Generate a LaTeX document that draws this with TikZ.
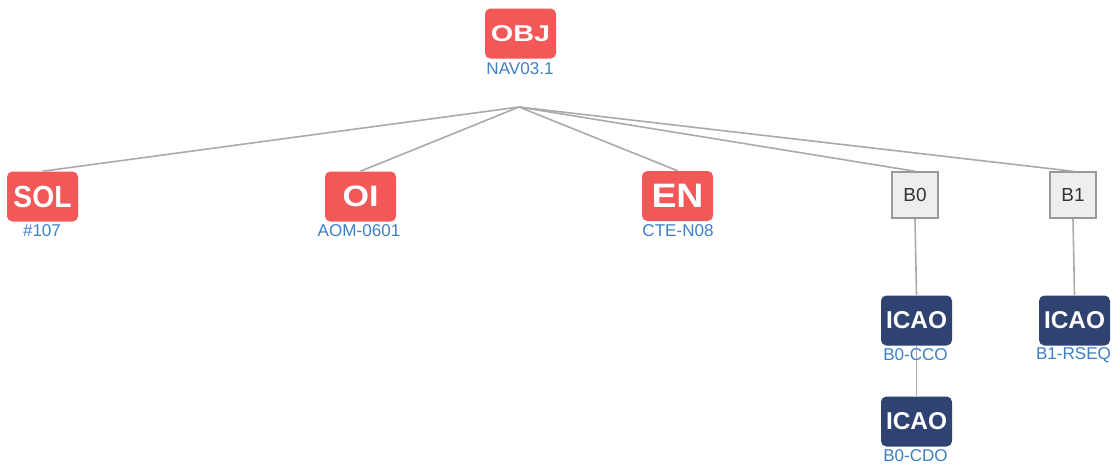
\documentclass[tikz,border=0pt]{standalone}
\usepackage{fontspec}
\setmainfont{Liberation Sans}
\usepackage{graphicx}
\definecolor{redbox}{HTML}{F35858}
\definecolor{navybox}{HTML}{2E4372}
\definecolor{labblue}{HTML}{3D80C4}
\definecolor{edgegray}{HTML}{AAAAAA}
\definecolor{bfill}{HTML}{EEEEEE}
\definecolor{bdraw}{HTML}{999999}
\definecolor{btext}{HTML}{333333}
\newcommand{\fitword}[3]{\resizebox{#1pt}{#2pt}{\bfseries #3}}
\tikzset{
  redtag/.style={fill=redbox, text=white, rounded corners=4pt, minimum width=53.25pt, minimum height=37.5pt, inner sep=0pt},
  navytag/.style={fill=navybox, text=white, rounded corners=4pt, minimum width=53.25pt, minimum height=37.5pt, inner sep=0pt},
  grouptag/.style={fill=bfill, draw=bdraw, line width=1.1pt, text=btext, minimum width=34.5pt, minimum height=34.5pt, inner sep=0pt, font=\fontsize{14.2pt}{16pt}\selectfont},
  codelabel/.style={text=labblue, inner sep=0pt, font=\fontsize{12.8pt}{14pt}\selectfont},
  link/.style={draw=edgegray, line width=1.2pt}
}
\begin{document}
\begin{tikzpicture}[x=0.75pt,y=-0.75pt]
\useasboundingbox (0,0) rectangle (1120,465);
% nodes
\node[redtag] (obj) at (520.5,33.5) {\fitword{44.5}{12}{OBJ}};
\node[redtag] (sol) at (42.5,196.5) {\fitword{43.5}{16}{SOL}};
\node[redtag] (oi) at (360.5,196.5) {\fitword{27}{15.5}{OI}};
\node[redtag] (en) at (677.5,196) {\fitword{39}{17.5}{EN}};
\node[grouptag] (b0) at (915,195) {B0};
\node[grouptag] (b1) at (1073,195) {B1};
\node[navytag] (cco) at (916.5,320.5) {\fitword{45.75}{12.75}{ICAO}};
\node[navytag] (rseq) at (1074.5,320.5) {\fitword{45.75}{12.75}{ICAO}};
\node[navytag] (cdo) at (916.5,421.5) {\fitword{45.75}{12.75}{ICAO}};
\coordinate (hub) at (519,107);
% connectors
\draw[link] (hub) -- (sol.north);
\draw[link] (hub) -- (oi.north);
\draw[link] (hub) -- (en.north);
\draw[link] (hub) -- (b0.north);
\draw[link] (hub) -- (b1.north);
\draw[link] (b0.south) -- (cco.north);
\draw[link] (b1.south) -- (rseq.north);
\draw[link] (cco.south) -- (cdo.north);
% labels
\node[codelabel] (objl) at (520,69) {NAV03.1};
\node[codelabel] (soll) at (42,231) {\#107};
\node[codelabel] (oil) at (359,231) {AOM-0601};
\node[codelabel] (enl) at (678,231) {CTE-N08};
\node[codelabel] (ccol) at (915.5,355) {B0-CCO};
\node[codelabel] (rseql) at (1073.5,355) {B1-RSEQ};
\node[codelabel] (cdol) at (915.5,456) {B0-CDO};
\end{tikzpicture}
\end{document}
